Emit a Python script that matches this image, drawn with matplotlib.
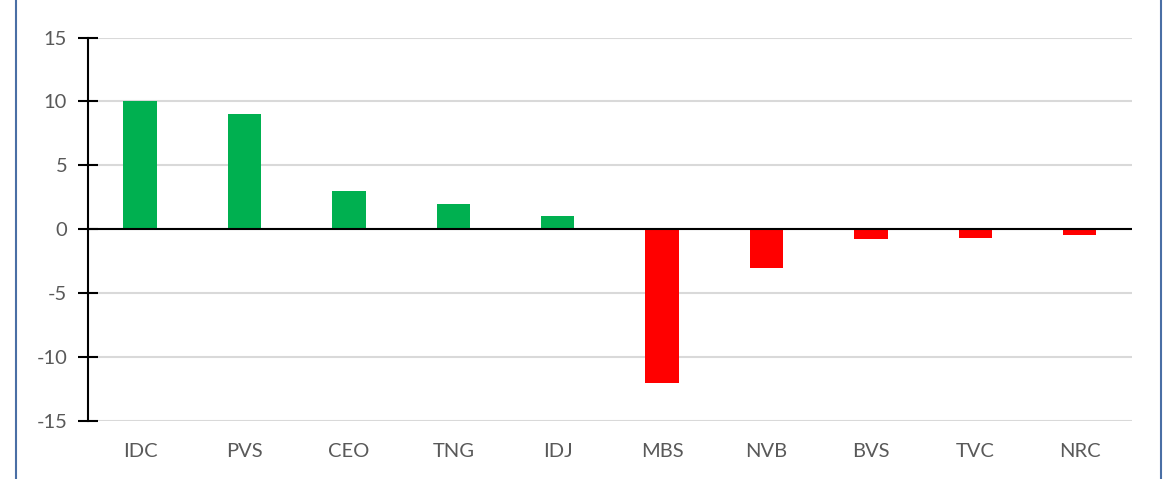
import matplotlib.pyplot as plt
from matplotlib.lines import Line2D

tickers = ["IDC", "PVS", "CEO", "TNG", "IDJ", "MBS", "NVB", "BVS", "TVC", "NRC"]
values = [10, 9, 3, 2, 1, -12, -3, -0.8, -0.7, -0.45]
y_ticks = [-15, -10, -5, 0, 5, 10, 15]

plt.rcParams['font.family'] = ['Lato', 'DejaVu Sans']
plt.rcParams['axes.unicode_minus'] = False

fig = plt.figure(figsize=(11.73, 4.79), dpi=100)
ax = fig.add_axes([0.0750, 0.1211, 0.8900, 0.8006])

colors = ["#00b050" if v >= 0 else "#ff0000" for v in values]
ax.bar(range(len(tickers)), values, width=0.32, color=colors, zorder=3)

ax.set_xlim(-0.5, len(tickers) - 0.5)
ax.set_ylim(-15, 15)
ax.set_yticks(y_ticks)
ax.set_xticks(range(len(tickers)))
ax.set_xticklabels(tickers)

ax.grid(axis='y', color='#d9d9d9', linewidth=1.5, zorder=0)
ax.axhline(0, color='black', linewidth=1.5, zorder=4)

for s in ['top', 'right', 'bottom']:
    ax.spines[s].set_visible(False)
ax.spines['left'].set_linewidth(1.5)
ax.spines['left'].set_zorder(5)

ax.tick_params(axis='y', direction='inout', length=14, width=1.5, labelsize=14.5,
               labelcolor='#595959', pad=8)
ax.tick_params(axis='x', length=0, labelsize=14.5, labelcolor='#595959', pad=16)

# blue frame edges of the original chart area
fig.add_artist(Line2D([16 / 1173, 16 / 1173], [0, 1], color='#4a6fa5', linewidth=1.5))
fig.add_artist(Line2D([1161 / 1173, 1161 / 1173], [0, 1], color='#4a6fa5', linewidth=1.5))

fig.savefig("out.png", dpi=100)
